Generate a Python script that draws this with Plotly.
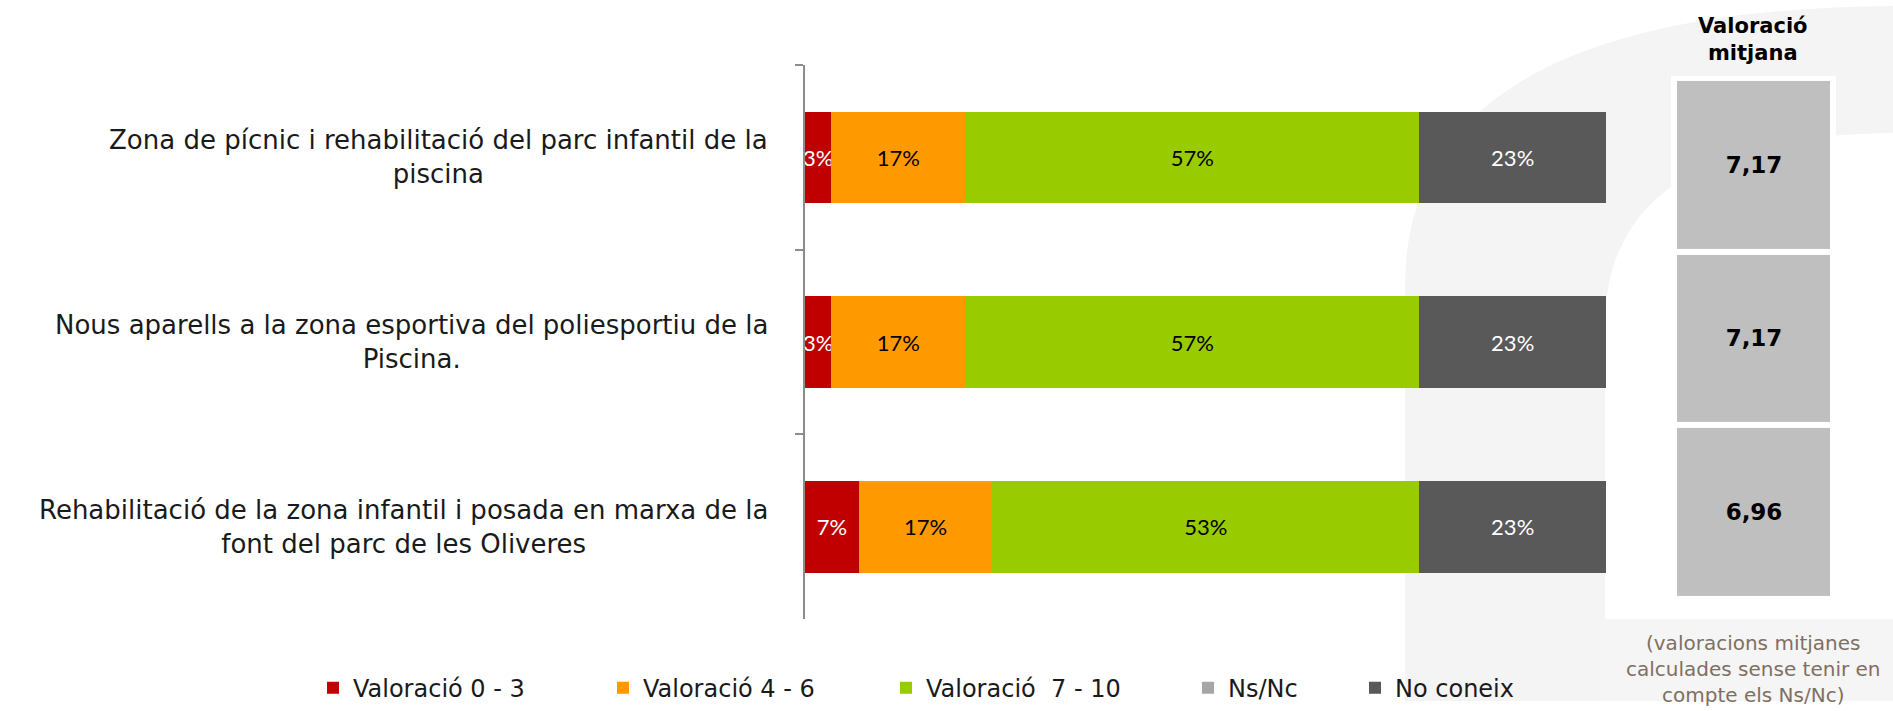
import plotly.graph_objects as go

W, H = 1893, 711

categories = [
    "Zona de pícnic i rehabilitació del parc infantil de la<br>piscina",
    "Nous aparells a la zona esportiva del poliesportiu de la<br>Piscina.",
    "Rehabilitació de la zona infantil i posada en marxa de la<br>font del parc de les Oliveres",
]
series_names = ["Valoració 0 - 3", "Valoració 4 - 6", "Valoració\u00a0 7 - 10", "Ns/Nc", "No coneix"]
val_0_3 = [3.3, 3.3, 6.7]
val_4_6 = [16.7, 16.7, 16.7]
val_7_10 = [56.7, 56.7, 53.3]
val_nsnc = [0, 0, 0]
val_no_coneix = [23.3, 23.3, 23.3]
valoracio_mitjana = [7.17, 7.17, 6.96]

colors = ["#c00000", "#ff9900", "#99cc00", "#a6a6a6", "#595959"]
text_colors = ["white", "black", "black", "black", "white"]
legend_ids = ["legend", "legend2", "legend3", "legend4", "legend5"]
legend_left_px = [313, 603, 886, 1188, 1355]

FONT = "Lato"
WIDE = "DejaVu Sans"


def px(x):
    return x / W


def py(y):
    return 1 - y / H


fig = go.Figure()

all_vals = [val_0_3, val_4_6, val_7_10, val_nsnc, val_no_coneix]
for name, vals, col, tcol, lg in zip(series_names, all_vals, colors, text_colors, legend_ids):
    fig.add_trace(go.Bar(
        orientation="h", x=vals, y=categories, name=name,
        marker=dict(color=col, line=dict(width=0)),
        text=[f"{round(v)}%" if v > 0 else "" for v in vals],
        textposition="inside", insidetextanchor="middle", textangle=0,
        constraintext="none",
        textfont=dict(color=tcol, size=22, family=FONT),
        legend=lg, hoverinfo="skip",
    ))

fig.add_trace(go.Heatmap(
    z=[[v] for v in valoracio_mitjana], x=["m"], y=categories,
    text=[["<b>" + f"{v:.2f}".replace(".", ",") + "</b>"] for v in valoracio_mitjana],
    texttemplate="%{text}",
    textfont=dict(size=23, color="black", family=WIDE),
    colorscale=[[0, "#bfbfbf"], [1, "#bfbfbf"]], showscale=False,
    ygap=6, xaxis="x2", yaxis="y2", hoverinfo="skip", showlegend=False,
))

# background watermark shapes (pixel -> paper)
def P(x, y):
    return f"{px(x):.5f},{py(y):.5f}"

arc = (f"M {P(1405, 711)} L {P(1405, 290)} Q {P(1405, 10)} {P(1893, 6)} "
       f"L {P(1893, 135)} Q {P(1605, 138)} {P(1605, 330)} L {P(1605, 711)} Z")
shapes = [
    dict(type="path", path=arc, xref="paper", yref="paper", fillcolor="#f4f4f4",
         line=dict(width=0), layer="below"),
    dict(type="rect", xref="paper", yref="paper", x0=px(1600), x1=px(1893), y0=py(711), y1=py(628),
         fillcolor="#f5f5f5", line=dict(width=0), layer="below"),
    dict(type="rect", xref="paper", yref="paper", x0=px(1671), x1=px(1836), y0=py(604), y1=py(77),
         fillcolor="white", line=dict(width=0), layer="below"),
]

annotations = []
for c in categories:
    annotations.append(dict(
        x=px(770), xref="paper", y=c, yref="y", xanchor="right", yanchor="middle",
        text=c, align="center", showarrow=False,
        font=dict(size=26, color="#1a1a1a", family=WIDE),
    ))
annotations.append(dict(
    x=px(1753), xref="paper", y=py(40), yref="paper", xanchor="center", yanchor="middle",
    text="<b>Valoració<br>mitjana</b>", align="center", showarrow=False,
    font=dict(size=21, color="black", family=WIDE),
))
annotations.append(dict(
    x=px(1753), xref="paper", y=py(638), yref="paper", xanchor="center", yanchor="top",
    text="(valoracions mitjanes<br>calculades sense tenir en<br>compte els Ns/Nc)", align="center",
    showarrow=False, font=dict(size=20, color="#7f6f63", family=WIDE),
))

layout_legends = {}
for lg, lx in zip(legend_ids, legend_left_px):
    layout_legends[lg] = dict(
        x=px(lx), xanchor="left", y=py(698), yanchor="middle",
        orientation="h", bgcolor="rgba(0,0,0,0)",
        font=dict(size=24, color="#1a1a1a", family=WIDE),
    )

fig.update_layout(
    width=W, height=H, autosize=False,
    margin=dict(l=0, r=0, t=0, b=0),
    paper_bgcolor="white", plot_bgcolor="rgba(0,0,0,0)",
    barmode="stack", bargap=0.505,
    showlegend=True,
    xaxis=dict(domain=[px(805), px(1606)], range=[0, 100], visible=False, anchor="y"),
    yaxis=dict(domain=[py(628), py(66)], type="category", categoryorder="array",
               categoryarray=categories, autorange="reversed", anchor="x",
               showline=True, linecolor="#8c8c8c", linewidth=1.5,
               ticks="outside", tickson="boundaries", ticklen=8, tickcolor="#8c8c8c", tickwidth=1.5,
               showticklabels=False, showgrid=False, zeroline=False),
    xaxis2=dict(domain=[px(1677), px(1830)], visible=False, anchor="y2"),
    yaxis2=dict(domain=[py(607), py(79)], type="category", autorange="reversed",
                visible=False, anchor="x2"),
    shapes=shapes, annotations=annotations,
    **layout_legends,
)

fig.write_html("out.html")
